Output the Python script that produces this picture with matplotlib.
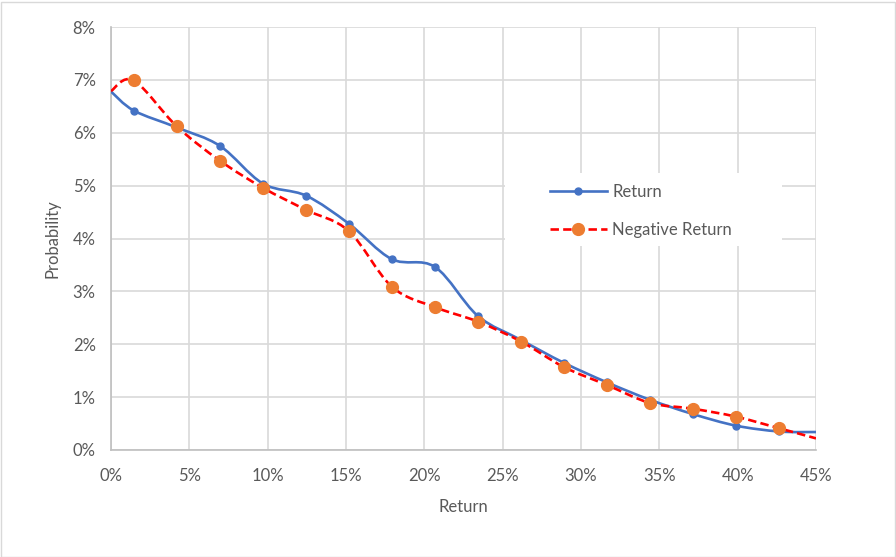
import numpy as np
import matplotlib
matplotlib.use('Agg')
from matplotlib import pyplot as plt
from matplotlib.path import Path
from matplotlib.patches import PathPatch, Rectangle
from matplotlib.lines import Line2D

# values, in percent
ret_x = [0, 1.45, 4.2, 6.96, 9.69, 12.45, 15.18, 17.92, 20.69, 23.4,
         26.18, 28.9, 31.65, 34.4, 37.14, 39.9, 42.66, 45]
ret_y = [6.78, 6.42, 6.1, 5.75, 5.04, 4.81, 4.28, 3.61, 3.46, 2.54,
         2.08, 1.65, 1.28, 0.95, 0.68, 0.46, 0.35, 0.34]
neg_y = [6.79, 6.99, 6.12, 5.47, 4.96, 4.54, 4.14, 3.09, 2.70, 2.43,
         2.05, 1.57, 1.23, 0.89, 0.78, 0.63, 0.41, 0.22]
x_ticks = [0, 5, 10, 15, 20, 25, 30, 35, 40, 45]
y_ticks = [0, 1, 2, 3, 4, 5, 6, 7, 8]

BLUE = '#4472C4'
ORANGE = '#ED7D31'
RED = '#FF0000'
GRID = '#D9D9D9'
TEXT = '#595959'
FS = 12

plt.rcParams['font.family'] = ['Lato', 'DejaVu Sans']


def smooth_path(x, y):
    """ Excel-style smoothed line as cubic bezier segments through the points """
    p = np.column_stack([x, y]).astype(float)
    n = len(p)
    verts = [p[0]]
    codes = [Path.MOVETO]
    for i in range(n - 1):
        p0 = p[i - 1] if i > 0 else p[i]
        p3 = p[i + 2] if i + 2 < n else p[i + 1]
        c1 = p[i] + (p[i + 1] - p0) / 6.0
        c2 = p[i + 1] - (p3 - p[i]) / 6.0
        verts += [c1, c2, p[i + 1]]
        codes += [Path.CURVE4] * 3
    return Path(verts, codes)


fig = plt.figure(figsize=(8.96, 5.57), dpi=100)
ax = fig.add_axes([111 / 896, 1 - 450 / 557, (816 - 111) / 896, (450 - 27) / 557])

ax.set_xlim(0, 45)
ax.set_ylim(0, 8)
ax.set_xticks(x_ticks)
ax.set_yticks(y_ticks)
ax.set_xticklabels(['%d%%' % v for v in x_ticks])
ax.set_yticklabels(['%d%%' % v for v in y_ticks])
ax.tick_params(length=0, colors=TEXT, labelsize=FS)
ax.tick_params(axis='x', pad=13)
ax.tick_params(axis='y', pad=11)
ax.grid(True, color=GRID, linewidth=1.2)
ax.set_axisbelow(True)
for s in ['top', 'right']:
    ax.spines[s].set_visible(False)
for s in ['left', 'bottom']:
    ax.spines[s].set_color('#BFBFBF')
    ax.spines[s].set_linewidth(1.2)

# legend background hides the gridlines behind it
ax.add_patch(Rectangle((505 / 896, 1 - 246 / 557), 277 / 896, 73 / 557,
                       transform=fig.transFigure, facecolor='white',
                       edgecolor='none', zorder=1.5))

ax.add_patch(PathPatch(smooth_path(ret_x, ret_y), fill=False, edgecolor=BLUE,
                       linewidth=1.9, zorder=3, capstyle='round'))
ax.plot(ret_x[1:-1], ret_y[1:-1], linestyle='none', marker='o', markersize=5,
        color=BLUE, zorder=4)

ax.add_patch(PathPatch(smooth_path(ret_x, neg_y), fill=False, edgecolor=RED,
                       linewidth=1.9, linestyle=(0, (3.2, 1.6)), zorder=3))
ax.plot(ret_x[1:-1], neg_y[1:-1], linestyle='none', marker='o', markersize=8.5,
        color=ORANGE, zorder=4)

handles = [
    Line2D([], [], color=BLUE, linewidth=1.9, marker='o', markersize=5),
    Line2D([], [], color=RED, linewidth=1.9, linestyle=(0, (3.2, 1.6)),
           marker='o', markersize=8.5, markerfacecolor=ORANGE,
           markeredgecolor=ORANGE),
]
leg = fig.legend(handles, ['Return', 'Negative Return'], loc='upper left',
                 bbox_to_anchor=(550 / 896, 1 - 184 / 557), frameon=False,
                 fontsize=FS, handlelength=3.4, handletextpad=0.35,
                 labelspacing=1.3, borderaxespad=0, borderpad=0)
for t in leg.get_texts():
    t.set_color(TEXT)

ax.set_xlabel('Return', color=TEXT, fontsize=FS, labelpad=11)
ax.set_ylabel('Probability', color=TEXT, fontsize=FS, labelpad=9)

fig.patches.append(Rectangle((0.5 / 896, 0.5 / 557), 894 / 896, 555 / 557,
                             transform=fig.transFigure, fill=False,
                             edgecolor=GRID, linewidth=1))

plt.savefig('out.png', dpi=100)
plt.close()
